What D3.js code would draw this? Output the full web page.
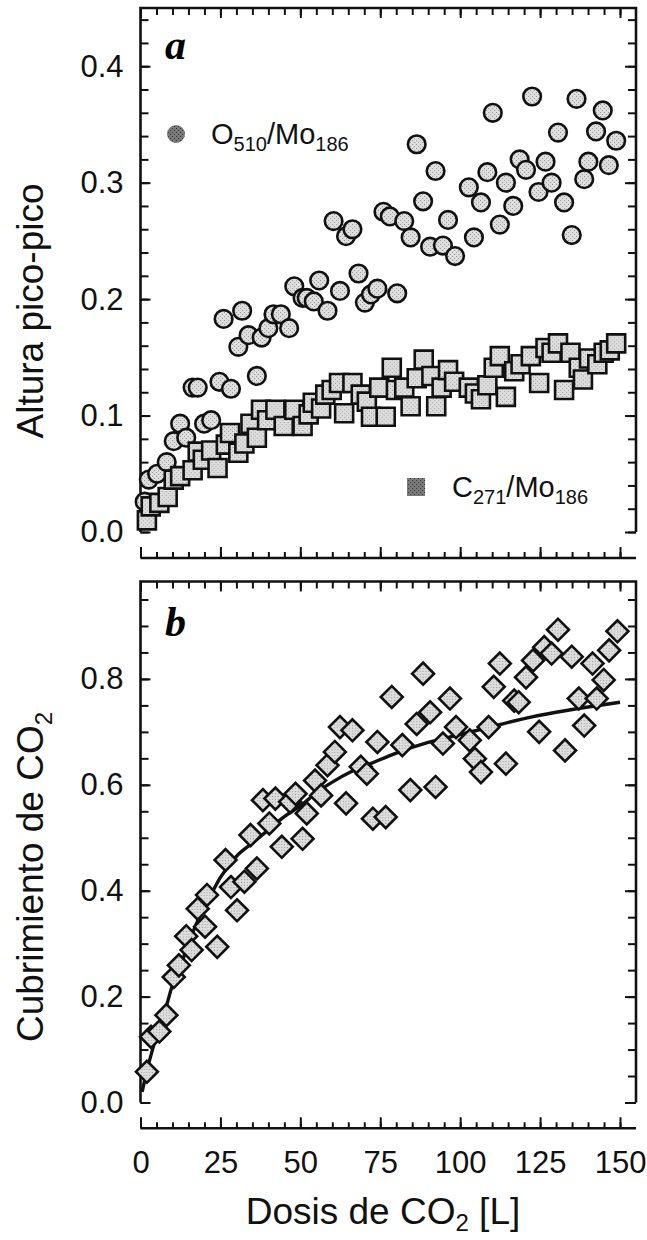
<!DOCTYPE html>
<html>
<head>
<meta charset="utf-8">
<script src="https://cdn.jsdelivr.net/npm/d3@7"></script>
<style>
  body { margin: 0; background: #fff; }
  svg { display: block; }
  .tick text { font-family: "Liberation Sans", Arial, sans-serif; font-size: 31px; fill: #111; }
  .tick line { stroke: #111; stroke-width: 2; }
</style>
</head>
<body>
<div id="chart"></div>
<script>
// panel a: O510/Mo186 (circles)
const oxX = [1.3, 2.6, 5.2, 8.2, 10.4, 12.4, 14.3, 16.3, 17.9, 19.9, 22.1, 24.7, 26.0, 28.3, 30.6, 31.8, 33.8, 36.4, 37.9, 40.0,
    41.6, 43.9, 46.5, 48.1, 50.7, 52.0, 54.2, 55.9, 58.5, 60.4, 62.4, 64.3, 66.3, 68.2, 70.2, 72.1, 74.1, 76.0, 78.0, 80.3,
    82.5, 84.5, 86.4, 88.4, 90.6, 92.3, 94.6, 96.2, 98.4, 102.7, 104.3, 106.5, 108.5, 110.2, 112.4, 114.3, 116.6, 118.6, 120.6, 122.5,
    124.5, 126.7, 128.6, 130.6, 132.5, 134.9, 136.4, 138.8, 140.1, 142.5, 144.6, 146.5, 148.8];
const oxY = [0.026, 0.045, 0.050, 0.060, 0.078, 0.093, 0.081, 0.124, 0.124, 0.093, 0.096, 0.129, 0.183, 0.123, 0.159, 0.190, 0.169, 0.134, 0.167, 0.175,
    0.187, 0.187, 0.175, 0.211, 0.201, 0.201, 0.198, 0.216, 0.190, 0.267, 0.207, 0.254, 0.260, 0.222, 0.197, 0.204, 0.209, 0.275, 0.271, 0.205,
    0.267, 0.253, 0.333, 0.284, 0.245, 0.310, 0.246, 0.268, 0.237, 0.296, 0.253, 0.283, 0.309, 0.360, 0.264, 0.300, 0.280, 0.320, 0.311, 0.374,
    0.292, 0.318, 0.300, 0.343, 0.283, 0.255, 0.372, 0.303, 0.318, 0.344, 0.362, 0.315, 0.336];

// panel a: C271/Mo186 (squares)
const cX = [2.0, 3.2, 5.9, 8.5, 10.4, 12.4, 16.3, 17.9, 19.5, 22.1, 24.1, 26.7, 28.0, 30.6, 32.5, 34.4, 36.4, 37.7, 39.6, 42.2,
    44.8, 48.1, 50.7, 52.6, 53.9, 56.5, 57.8, 59.8, 62.1, 63.7, 66.3, 68.9, 70.8, 72.1, 74.7, 76.7, 78.6, 79.9, 82.5, 84.5,
    86.4, 88.6, 91.0, 92.5, 94.2, 96.2, 98.1, 102.7, 104.6, 106.5, 108.5, 110.5, 112.4, 114.3, 116.9, 118.9, 122.1, 124.7, 126.7, 128.6,
    130.6, 132.5, 134.5, 137.1, 138.4, 140.3, 142.9, 144.9, 146.8, 148.8];
const cY = [0.010, 0.022, 0.025, 0.030, 0.045, 0.048, 0.053, 0.069, 0.062, 0.070, 0.055, 0.075, 0.085, 0.068, 0.076, 0.093, 0.081, 0.105, 0.096, 0.105,
    0.091, 0.105, 0.091, 0.101, 0.111, 0.106, 0.118, 0.122, 0.128, 0.102, 0.128, 0.118, 0.112, 0.099, 0.124, 0.099, 0.141, 0.122, 0.124, 0.108,
    0.132, 0.148, 0.134, 0.108, 0.124, 0.139, 0.129, 0.124, 0.119, 0.114, 0.126, 0.141, 0.151, 0.116, 0.138, 0.144, 0.151, 0.128, 0.158, 0.154,
    0.162, 0.122, 0.154, 0.141, 0.131, 0.149, 0.144, 0.154, 0.156, 0.162];

// panel b: CO2 coverage (diamonds)
const covX = [2.0, 3.3, 5.9, 8.1, 10.4, 12.0, 14.3, 16.0, 17.9, 20.2, 20.8, 24.0, 26.6, 28.3, 30.2, 32.5, 34.4, 36.4, 38.3, 40.3,
    42.2, 44.2, 46.8, 48.5, 50.7, 52.0, 54.6, 56.5, 58.5, 60.8, 62.4, 64.3, 66.3, 68.9, 70.8, 72.7, 74.1, 76.7, 78.6, 81.9,
    84.4, 86.4, 88.4, 90.6, 92.3, 94.6, 96.8, 98.7, 103.0, 104.6, 106.5, 108.9, 110.5, 112.4, 114.3, 116.9, 118.3, 120.6, 122.8, 124.7,
    126.3, 128.6, 130.6, 132.8, 134.9, 137.1, 138.8, 141.4, 142.7, 144.9, 146.6, 149.2];
const covY = [0.058, 0.124, 0.134, 0.165, 0.237, 0.259, 0.314, 0.288, 0.366, 0.332, 0.392, 0.294, 0.458, 0.407, 0.363, 0.417, 0.505, 0.442, 0.571, 0.527,
    0.574, 0.483, 0.568, 0.583, 0.498, 0.546, 0.608, 0.580, 0.637, 0.662, 0.709, 0.565, 0.703, 0.634, 0.621, 0.536, 0.681, 0.539, 0.766, 0.675,
    0.590, 0.715, 0.810, 0.737, 0.596, 0.678, 0.763, 0.709, 0.684, 0.649, 0.624, 0.709, 0.785, 0.829, 0.640, 0.759, 0.756, 0.803, 0.835, 0.700,
    0.860, 0.848, 0.893, 0.665, 0.842, 0.763, 0.712, 0.829, 0.763, 0.798, 0.854, 0.890];

// fitted curve
const fitX = [0.5, 2, 4, 6, 8, 10, 12, 15, 18, 21, 25, 30, 35, 40, 45, 50, 55, 60, 66, 72, 80, 90, 100, 110, 120, 130, 140, 150];
const fitY = [0.02, 0.06, 0.105, 0.145, 0.18, 0.222, 0.25, 0.30, 0.345, 0.38, 0.425, 0.465, 0.49, 0.515, 0.54, 0.56, 0.585, 0.605, 0.625, 0.64,
    0.66, 0.68, 0.695, 0.71, 0.725, 0.737, 0.747, 0.756];

const aTicks = [0, 0.1, 0.2, 0.3, 0.4];
const bTicks = [0, 0.2, 0.4, 0.6, 0.8];
const xTicks = [0, 25, 50, 75, 100, 125, 150];

const width = 647, height = 1240;
const left = 140.5, right = 636;
const font = '"Liberation Sans", Arial, sans-serif';

const svg = d3.select("#chart").append("svg")
    .attr("width", width)
    .attr("height", height);

// stippled fills like the scanned markers
const defs = svg.append("defs");
function stipple(id, bg, dot) {
    const p = defs.append("pattern").attr("id", id)
        .attr("width", 4).attr("height", 4).attr("patternUnits", "userSpaceOnUse");
    p.append("rect").attr("width", 4).attr("height", 4).attr("fill", bg);
    p.append("rect").attr("x", 0).attr("y", 0).attr("width", 1).attr("height", 1).attr("fill", dot);
    p.append("rect").attr("x", 2).attr("y", 2).attr("width", 1).attr("height", 1).attr("fill", dot);
}
stipple("light", "#dedede", "#9a9a9a");
stipple("dark", "#7a7a7a", "#333");

const x = d3.scaleLinear().domain([0, 155]).range([left, right]);
const yA = d3.scaleLinear().domain([0, 0.45]).range([532, 8]);
const yB = d3.scaleLinear().domain([0, 0.984]).range([1102.5, 581.5]);

const minorX = d3.range(0, 151, 5);

function framePanel(y, majors, minorStep, axisY, showLabels) {
    const [y0, y1] = y.range();
    const g = svg.append("g");

    g.append("path")
        .attr("d", `M${left},${y0}V${y1}H${right}V${y0}`)
        .attr("fill", "none").attr("stroke", "#111").attr("stroke-width", 2.6);

    const minorY = d3.range(0, y.domain()[1] + 1e-9, minorStep);

    // left ticks + labels
    g.append("g").attr("transform", `translate(${left},0)`)
        .call(d3.axisLeft(y).tickValues(minorY).tickSize(-8).tickFormat(""))
        .call(s => s.select(".domain").remove());
    g.append("g").attr("transform", `translate(${left},0)`)
        .call(d3.axisLeft(y).tickValues(majors).tickSize(-10).tickPadding(17).tickFormat(d3.format(".1f")))
        .call(s => s.select(".domain").remove());

    // right ticks
    g.append("g").attr("transform", `translate(${right},0)`)
        .call(d3.axisRight(y).tickValues(minorY).tickSize(-8).tickFormat(""))
        .call(s => s.select(".domain").remove());
    g.append("g").attr("transform", `translate(${right},0)`)
        .call(d3.axisRight(y).tickValues(majors).tickSize(-11).tickFormat(""))
        .call(s => s.select(".domain").remove());

    // top ticks
    g.append("g").attr("transform", `translate(0,${y1})`)
        .call(d3.axisTop(x).tickValues(minorX).tickSize(-7).tickFormat(""))
        .call(s => s.select(".domain").remove());
    g.append("g").attr("transform", `translate(0,${y1})`)
        .call(d3.axisTop(x).tickValues(xTicks).tickSize(-10).tickFormat(""))
        .call(s => s.select(".domain").remove());

    // detached x axis under the panel
    g.append("line")
        .attr("x1", left).attr("x2", right).attr("y1", axisY).attr("y2", axisY)
        .attr("stroke", "#111").attr("stroke-width", 2.6);
    g.append("g").attr("transform", `translate(0,${axisY})`)
        .call(d3.axisBottom(x).tickValues(minorX).tickSize(-6).tickFormat(""))
        .call(s => s.select(".domain").remove());
    g.append("g").attr("transform", `translate(0,${axisY})`)
        .call(d3.axisBottom(x).tickValues(xTicks).tickSize(-11).tickPadding(23)
            .tickFormat(showLabels ? d3.format("d") : ""))
        .call(s => s.select(".domain").remove());

    g.selectAll(".tick text").attr("font-family", font);
}

framePanel(yA, aTicks, 0.02, 558, false);
framePanel(yB, bTicks, 0.05, 1128.3, true);

// panel a markers
const circles = d3.zip(oxX, oxY);
const squares = d3.zip(cX, cY);

svg.append("g").selectAll("circle")
    .data(circles)
    .join("circle")
    .attr("cx", d => x(d[0]))
    .attr("cy", d => yA(d[1]))
    .attr("r", 8.8)
    .attr("fill", "url(#light)")
    .attr("stroke", "#111")
    .attr("stroke-width", 2.6);

const sq = d3.symbol(d3.symbolSquare, 18 * 18);
svg.append("g").selectAll("path")
    .data(squares)
    .join("path")
    .attr("d", sq)
    .attr("transform", d => `translate(${x(d[0])},${yA(d[1])})`)
    .attr("fill", "url(#light)")
    .attr("stroke", "#111")
    .attr("stroke-width", 2.6);

// panel b fit line + diamonds
const line = d3.line()
    .x(d => x(d[0]))
    .y(d => yB(d[1]))
    .curve(d3.curveMonotoneX);

svg.append("path")
    .datum(d3.zip(fitX, fitY))
    .attr("d", line)
    .attr("fill", "none")
    .attr("stroke", "#111")
    .attr("stroke-width", 3.4);

const dia = d3.symbol(d3.symbolSquare, 15.5 * 15.5);
svg.append("g").selectAll("path")
    .data(d3.zip(covX, covY))
    .join("path")
    .attr("d", dia)
    .attr("transform", d => `translate(${x(d[0])},${yB(d[1])}) rotate(45)`)
    .attr("fill", "url(#light)")
    .attr("stroke", "#111")
    .attr("stroke-width", 2.6);

// legends
svg.append("circle")
    .attr("cx", 176).attr("cy", 134).attr("r", 9)
    .attr("fill", "url(#dark)");

const legO = svg.append("text")
    .attr("x", 211).attr("y", 144)
    .attr("font-family", font).attr("font-size", 29).attr("fill", "#111");
legO.append("tspan").text("O");
legO.append("tspan").attr("dy", 7).attr("font-size", 20).text("510");
legO.append("tspan").attr("dy", -7).text("/Mo");
legO.append("tspan").attr("dy", 7).attr("font-size", 20).text("186");

svg.append("rect")
    .attr("x", 407).attr("y", 478).attr("width", 18).attr("height", 18)
    .attr("fill", "url(#dark)");

const legC = svg.append("text")
    .attr("x", 452).attr("y", 497)
    .attr("font-family", font).attr("font-size", 29).attr("fill", "#111");
legC.append("tspan").text("C");
legC.append("tspan").attr("dy", 7).attr("font-size", 20).text("271");
legC.append("tspan").attr("dy", -7).text("/Mo");
legC.append("tspan").attr("dy", 7).attr("font-size", 20).text("186");

// panel letters
svg.append("text").attr("x", 165).attr("y", 59)
    .attr("font-family", '"Liberation Serif", "Times New Roman", serif')
    .attr("font-size", 42).attr("font-weight", "bold").attr("font-style", "italic")
    .text("a");
svg.append("text").attr("x", 165).attr("y", 636)
    .attr("font-family", '"Liberation Serif", "Times New Roman", serif')
    .attr("font-size", 42).attr("font-weight", "bold").attr("font-style", "italic")
    .text("b");

// axis titles
svg.append("text")
    .attr("transform", "translate(43,311) rotate(-90)")
    .attr("text-anchor", "middle")
    .attr("font-family", font).attr("font-size", 37).attr("fill", "#111")
    .text("Altura pico-pico");

const yTitleB = svg.append("text")
    .attr("transform", "translate(43,877) rotate(-90)")
    .attr("text-anchor", "middle")
    .attr("font-family", font).attr("font-size", 37).attr("fill", "#111");
yTitleB.append("tspan").text("Cubrimiento de CO");
yTitleB.append("tspan").attr("dy", 9).attr("font-size", 24).text("2");

const xTitle = svg.append("text")
    .attr("x", 383).attr("y", 1224)
    .attr("text-anchor", "middle")
    .attr("font-family", font).attr("font-size", 37).attr("fill", "#111");
xTitle.append("tspan").text("Dosis de CO");
xTitle.append("tspan").attr("dy", 7).attr("font-size", 24).text("2");
xTitle.append("tspan").attr("dy", -7).text(" [L]");
</script>
</body>
</html>
